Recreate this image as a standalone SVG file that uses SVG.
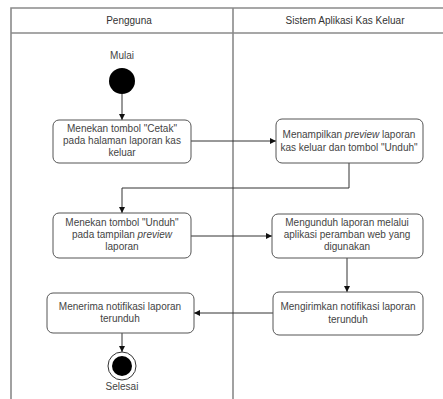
<svg xmlns="http://www.w3.org/2000/svg" width="443" height="399" viewBox="0 0 443 399">
  <defs>
    <marker id="arrow" viewBox="0 0 10 10" refX="10" refY="5" markerWidth="6" markerHeight="6" orient="auto" markerUnits="userSpaceOnUse">
      <path d="M0,0 L10,5 L0,10 Z" fill="#111"/>
    </marker>
    <style>
      .lane { fill: none; stroke: #8a8a8a; stroke-width: 1.6; }
      .hdr { font-family: "Liberation Sans", Arial, sans-serif; font-size: 10px; fill: #333; text-anchor: middle; }
      .act rect { fill: #fff; stroke: #555; stroke-width: 1; }
      .act text, .lbl { font-family: "Liberation Sans", Arial, sans-serif; font-size: 10px; fill: #444; text-anchor: middle; }
      .flow { fill: none; stroke: #333; stroke-width: 1; marker-end: url(#arrow); }
    </style>
  </defs>
  <rect width="443" height="399" fill="#fff"/>

  <!-- swimlanes -->
  <g id="lanes">
    <path class="lane" d="M11,399 V8 H443 M11,33 H443 M233,8 V399"/>
    <text class="hdr" x="129" y="24">Pengguna</text>
    <text class="hdr" x="345" y="24">Sistem Aplikasi Kas Keluar</text>
  </g>

  <!-- connectors -->
  <g id="connectors">
    <path class="flow" d="M122,94 V120"/>
    <path class="flow" d="M191,141 H276"/>
    <path class="flow" d="M349,163 V188 H122 V213"/>
    <path class="flow" d="M191,236 H272"/>
    <path class="flow" d="M347,258 V292"/>
    <path class="flow" d="M273,313 H194"/>
    <path class="flow" d="M122,333 V352"/>
  </g>

  <g id="start">
    <text class="lbl" x="122" y="59">Mulai</text>
    <circle cx="122" cy="81" r="13" fill="#000"/>
  </g>

  <g id="a1" class="act">
    <rect x="53" y="120" width="138" height="43" rx="6"/>
    <text x="122" y="132">Menekan tombol "Cetak"</text>
    <text x="122" y="144">pada halaman laporan kas</text>
    <text x="122" y="156">keluar</text>
  </g>

  <g id="a2" class="act">
    <rect x="276" y="119" width="147" height="44" rx="6"/>
    <text x="349" y="138"><tspan>Menampilkan </tspan><tspan font-style="italic">preview</tspan><tspan> laporan</tspan></text>
    <text x="349" y="151">kas keluar dan tombol "Unduh"</text>
  </g>

  <g id="a3" class="act">
    <rect x="53" y="213" width="138" height="45" rx="6"/>
    <text x="122" y="226">Menekan tombol "Unduh"</text>
    <text x="122" y="238"><tspan>pada tampilan </tspan><tspan font-style="italic">preview</tspan></text>
    <text x="122" y="250">laporan</text>
  </g>

  <g id="a4" class="act">
    <rect x="272" y="214" width="151" height="44" rx="6"/>
    <text x="347" y="226">Mengunduh laporan melalui</text>
    <text x="347" y="238">aplikasi peramban web yang</text>
    <text x="347" y="250">digunakan</text>
  </g>

  <g id="a5" class="act">
    <rect x="273" y="292" width="150" height="43" rx="6"/>
    <text x="348" y="310">Mengirimkan notifikasi laporan</text>
    <text x="348" y="323">terunduh</text>
  </g>

  <g id="a6" class="act">
    <rect x="47" y="293" width="147" height="40" rx="6"/>
    <text x="120" y="310">Menerima notifikasi laporan</text>
    <text x="120" y="322">terunduh</text>
  </g>

  <g id="end">
    <circle cx="122" cy="366" r="14" fill="#fff" stroke="#333" stroke-width="1"/>
    <circle cx="122" cy="366" r="10" fill="#000"/>
    <text class="lbl" x="122" y="390">Selesai</text>
  </g>
</svg>
